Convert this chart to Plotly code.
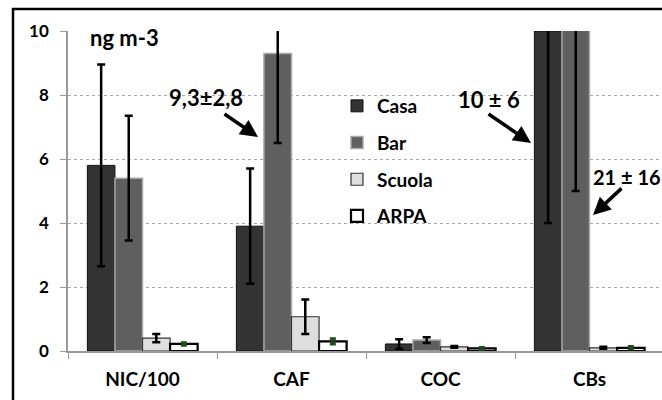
import plotly.graph_objects as go

# Concentrations by site (ng m-3), mean and standard deviation
categories = ["NIC/100", "CAF", "COC", "CBs"]
casa = [5.8, 3.9, 0.22, 10]
casa_sd = [3.15, 1.8, 0.15, 6]
bar = [5.4, 9.3, 0.34, 21]
bar_sd = [1.95, 2.8, 0.09, 16]
scuola = [0.4, 1.07, 0.13, 0.1]
scuola_sd = [0.13, 0.54, 0.03, 0.03]
arpa = [0.22, 0.3, 0.08, 0.1]
arpa_sd = [0.04, 0.08, 0.03, 0.04]
y_ticks = [0, 2, 4, 6, 8, 10]

W, H = 662, 400
L, R, T, B = 68, 0, 31, 49
PW, PH = W - L - R, H - T - B
FONT = "Lato"


def px_x(px):
    return (px - L) / PW


def px_y(py):
    return (H - B - py) / PH


series = [
    ("Casa", casa, casa_sd, "#333333", "#111111", 1.0, "#000000", 2.5, 4),
    ("Bar", bar, bar_sd, "#5f5f5f", "#a8a8a8", 1.5, "#000000", 2.5, 4),
    ("Scuola", scuola, scuola_sd, "#dedede", "#333333", 1.2, "#000000", 2.5, 4),
    ("ARPA", arpa, arpa_sd, "#ffffff", "#000000", 2.2, "#1e4a1e", 3, 3),
]

fig = go.Figure()
for name, vals, sd, fill, edge, ew, ecol, eth, ewid in series:
    fig.add_trace(go.Bar(
        name=name, x=categories, y=vals,
        marker=dict(color=fill, line=dict(color=edge, width=ew)),
        error_y=dict(type="data", array=sd, visible=True,
                     color=ecol, thickness=eth, width=ewid),
        legendgroup=name,
    ))

fig.update_layout(
    width=W, height=H,
    margin=dict(l=L, r=R, t=T, b=B),
    paper_bgcolor="white", plot_bgcolor="white",
    barmode="group", bargap=0.26, bargroupgap=0,
    font=dict(family=FONT, color="#000000"),
    showlegend=True,
    legend=dict(
        x=px_x(337), y=px_y(87), xanchor="left", yanchor="top",
        font=dict(family=FONT, size=19, weight="bold"),
        bgcolor="rgba(0,0,0,0)", traceorder="grouped", tracegroupgap=9,
    ),
    xaxis=dict(
        range=[-0.5, -0.5 + PW / 149.0],
        showline=True, linecolor="#9a9a9a", linewidth=2,
        ticks="outside", tickson="boundaries", ticklen=6, tickcolor="#9a9a9a",
        tickfont=dict(family=FONT, size=19, weight="bold"),
        ticklabelstandoff=10, showgrid=False, zeroline=False,
    ),
    yaxis=dict(
        range=[0, 10], tickvals=y_ticks,
        showline=True, linecolor="#9a9a9a", linewidth=1.5,
        ticks="outside", ticklen=6, tickcolor="#9a9a9a",
        tickfont=dict(family=FONT, size=17, weight="bold"),
        ticklabelstandoff=8,
        showgrid=True, gridcolor="#a8a8a8", griddash="dot", gridwidth=1,
        zeroline=False,
    ),
)

# Chart frame
fig.add_shape(type="rect", xref="paper", yref="paper",
              x0=px_x(13), x1=px_x(900), y0=px_y(700), y1=px_y(9),
              line=dict(color="#000000", width=2.5), fillcolor="rgba(0,0,0,0)")

ann_font = dict(family=FONT, size=22, weight="bold", color="#000000")
texts = [
    ("ng m-3", 124, 38),
    ("9,3±2,8", 206, 97),
    ("10 ± 6", 489, 100),
]
for txt, cx, cy in texts:
    fig.add_annotation(text=txt, xref="paper", yref="paper",
                       x=px_x(cx), y=px_y(cy), xanchor="center", yanchor="middle",
                       showarrow=False, font=ann_font)
fig.add_annotation(text="21 ± 16", xref="paper", yref="paper",
                   x=px_x(591), y=px_y(177), xanchor="left", yanchor="middle",
                   showarrow=False, font=dict(ann_font, size=20))

# Pointer arrows: (tail_x, tail_y, head_x, head_y) in pixels
arrows = [(223, 113, 258, 137), (487, 113, 531, 143), (623, 187, 593, 215)]
for tx, ty, hx, hy in arrows:
    fig.add_annotation(text="", xref="paper", yref="paper",
                       x=px_x(hx), y=px_y(hy), ax=tx - hx, ay=ty - hy,
                       showarrow=True, arrowhead=2, arrowsize=1,
                       arrowwidth=3.5, arrowcolor="#000000")

fig.write_html("out.html")
